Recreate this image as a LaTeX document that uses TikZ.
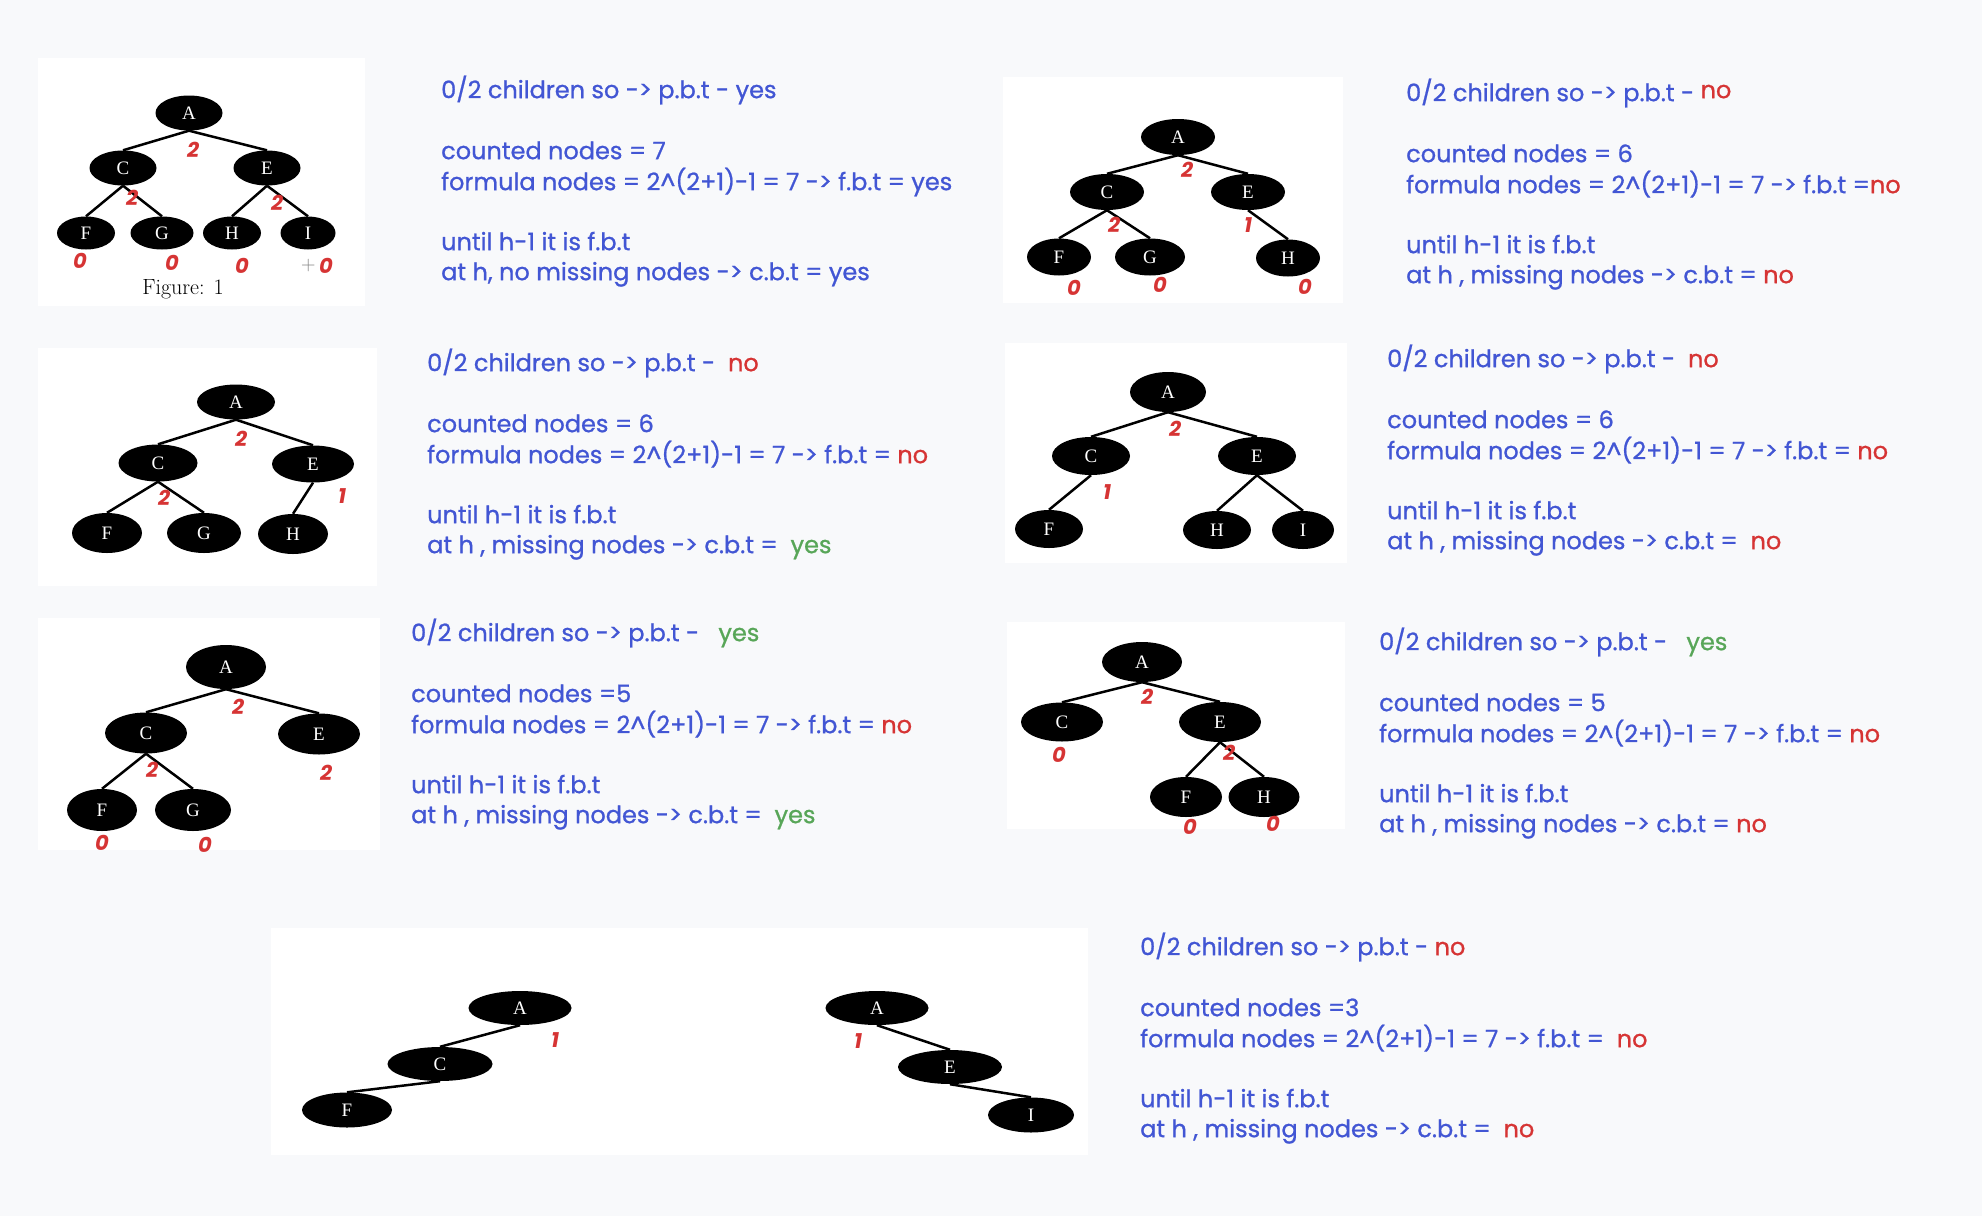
\documentclass[tikz,border=0pt]{standalone}
\usepackage{fontspec}
\newfontfamily\hand[FakeBold=0.9]{Poppins}
\newfontfamily\handnum{Poppins}
\newfontfamily\letterfont{Liberation Serif}
\usetikzlibrary{shapes.geometric, positioning}

\definecolor{pagebg}{RGB}{248,249,251}
\definecolor{noteblue}{RGB}{66,86,212}
\definecolor{ansred}{RGB}{214,52,52}
\definecolor{ansgreen}{RGB}{88,166,88}

\newcommand{\ansno}{\textcolor{ansred}{no}}
\newcommand{\ansyes}{\textcolor{ansgreen}{yes}}

\newcommand{\treenotes}[6]{%
  % #1 name prefix, #2 first line, then lines 1, 2, 3 and 5
  \begin{scope}[shift={#2}]
    \node[noteline] (#1a) at (0, 0) {#3};
    \node[noteline] (#1b) at (0, 61) {#4};
    \node[noteline] (#1c) at (0, 92) {#5};
    \node[noteline] (#1d) at (0, 152) {until h-1 it is f.b.t};
    \node[noteline] (#1e) at (0, 182) {#6};
  \end{scope}
}

\begin{document}
\begin{tikzpicture}[
    x=1pt, y=-1pt,
    panel/.style={fill=white},
    treenode/.style 2 args={ellipse, fill=black, text=white, inner sep=0pt,
        minimum width=#1, minimum height=#2, font=\letterfont\fontsize{19}{19}\selectfont},
    branch/.style={line width=2.5pt},
    degnum/.style={text=ansred, inner sep=0pt,
        font=\handnum\bfseries\itshape\fontsize{21}{21}\selectfont},
    noteline/.style={anchor=mid west, inner sep=0pt, text=noteblue,
        font=\hand\fontsize{24}{24}\selectfont},
  ]
  \fill[pagebg] (0,0) rectangle (1982,1216);

  % tree 1 (full tree)
  \fill[panel] (38,58) rectangle (365,306);
  \node[treenode={67pt}{35pt}] (a1) at (189,113) {A};
  \node[treenode={67pt}{35pt}] (c1) at (123,168) {C};
  \node[treenode={67pt}{35pt}] (e1) at (267,168) {E};
  \node[treenode={58pt}{33pt}] (f1) at (86,233) {F};
  \node[treenode={63pt}{33pt}] (g1) at (162,233) {G};
  \node[treenode={58pt}{33pt}] (h1) at (232,233) {H};
  \node[treenode={55pt}{33pt}] (i1) at (308,233) {I};
  \draw[branch] (a1.south) -- (c1.north);
  \draw[branch] (a1.south) -- (e1.north);
  \draw[branch] (c1.south) -- (f1.north);
  \draw[branch] (c1.south) -- (g1.north);
  \draw[branch] (e1.south) -- (h1.north);
  \draw[branch] (e1.south) -- (i1.north);
  \node[degnum] (na1) at (193,150) {2};
  \node[degnum] (nc1) at (132,198) {2};
  \node[degnum] (ne1) at (277,203) {2};
  \node[degnum] (nf1) at (80,261) {0};
  \node[degnum] (ng1) at (172,263) {0};
  \node[degnum] (nh1) at (242,266) {0};
  \node[degnum] (ni1) at (326,266) {0};
  \node[text=gray, font=\fontsize{20}{20}\selectfont, left=0pt of ni1] (plus1) {+};
  \node[font=\fontsize{22}{22}\selectfont] (cap1) at (183,289) {Figure: 1};

  % tree 2
  \fill[panel] (1003,77) rectangle (1343,303);
  \node[treenode={74pt}{36pt}] (a2) at (1178,137) {A};
  \node[treenode={74pt}{36pt}] (c2) at (1107,192) {C};
  \node[treenode={74pt}{36pt}] (e2) at (1248,192) {E};
  \node[treenode={64pt}{37pt}] (f2) at (1059,257) {F};
  \node[treenode={70pt}{37pt}] (g2) at (1150,257) {G};
  \node[treenode={64pt}{37pt}] (h2) at (1288,258) {H};
  \draw[branch] (a2.south) -- (c2.north);
  \draw[branch] (a2.south) -- (e2.north);
  \draw[branch] (c2.south) -- (f2.north);
  \draw[branch] (c2.south) -- (g2.north);
  \draw[branch] (e2.south) -- (h2.north);
  \node[degnum] (na2) at (1187,170) {2};
  \node[degnum] (nc2) at (1114,225) {2};
  \node[degnum] (ne2) at (1248,225) {1};
  \node[degnum] (nf2) at (1074,288) {0};
  \node[degnum] (ng2) at (1160,285) {0};
  \node[degnum] (nh2) at (1305,287) {0};

  % tree 3
  \fill[panel] (38,348) rectangle (377,586);
  \node[treenode={78pt}{35pt}] (a3) at (236,402) {A};
  \node[treenode={79pt}{37pt}] (c3) at (158,463) {C};
  \node[treenode={82pt}{37pt}] (e3) at (313,464) {E};
  \node[treenode={70pt}{40pt}] (f3) at (107,533) {F};
  \node[treenode={74pt}{40pt}] (g3) at (204,533) {G};
  \node[treenode={70pt}{40pt}] (h3) at (293,534) {H};
  \draw[branch] (a3.south) -- (c3.north);
  \draw[branch] (a3.south) -- (e3.north);
  \draw[branch] (c3.south) -- (f3.north);
  \draw[branch] (c3.south) -- (g3.north);
  \draw[branch] (e3.south) -- (h3.north);
  \node[degnum] (na3) at (241,439) {2};
  \node[degnum] (nc3) at (164,498) {2};
  \node[degnum] (ne3) at (342,496) {1};

  % tree 4
  \fill[panel] (1005,343) rectangle (1347,563);
  \node[treenode={76pt}{40pt}] (a4) at (1168,392) {A};
  \node[treenode={78pt}{38pt}] (c4) at (1091,456) {C};
  \node[treenode={78pt}{38pt}] (e4) at (1257,456) {E};
  \node[treenode={68pt}{38pt}] (f4) at (1049,529) {F};
  \node[treenode={68pt}{38pt}] (h4) at (1217,530) {H};
  \node[treenode={62pt}{38pt}] (i4) at (1303,530) {I};
  \draw[branch] (a4.south) -- (c4.north);
  \draw[branch] (a4.south) -- (e4.north);
  \draw[branch] (c4.south) -- (f4.north);
  \draw[branch] (e4.south) -- (h4.north);
  \draw[branch] (e4.south) -- (i4.north);
  \node[degnum] (na4) at (1175,429) {2};
  \node[degnum] (nc4) at (1107,492) {1};

  % tree 5
  \fill[panel] (38,618) rectangle (380,850);
  \node[treenode={80pt}{44pt}] (a5) at (226,667) {A};
  \node[treenode={82pt}{41pt}] (c5) at (146,733) {C};
  \node[treenode={82pt}{41pt}] (e5) at (319,734) {E};
  \node[treenode={70pt}{42pt}] (f5) at (102,810) {F};
  \node[treenode={76pt}{42pt}] (g5) at (193,810) {G};
  \draw[branch] (a5.south) -- (c5.north);
  \draw[branch] (a5.south) -- (e5.north);
  \draw[branch] (c5.south) -- (f5.north);
  \draw[branch] (c5.south) -- (g5.north);
  \node[degnum] (na5) at (238,707) {2};
  \node[degnum] (nc5) at (152,770) {2};
  \node[degnum] (ne5) at (326,773) {2};
  \node[degnum] (nf5) at (102,843) {0};
  \node[degnum] (ng5) at (205,845) {0};

  % tree 6
  \fill[panel] (1007,622) rectangle (1345,829);
  \node[treenode={80pt}{40pt}] (a6) at (1142,662) {A};
  \node[treenode={82pt}{39pt}] (c6) at (1062,722) {C};
  \node[treenode={82pt}{40pt}] (e6) at (1220,722) {E};
  \node[treenode={72pt}{40pt}] (f6) at (1186,797) {F};
  \node[treenode={71pt}{40pt}] (h6) at (1264,797) {H};
  \draw[branch] (a6.south) -- (c6.north);
  \draw[branch] (a6.south) -- (e6.north);
  \draw[branch] (e6.south) -- (f6.north);
  \draw[branch] (e6.south) -- (h6.north);
  \node[degnum] (na6) at (1147,697) {2};
  \node[degnum] (nc6) at (1059,755) {0};
  \node[degnum] (ne6) at (1229,753) {2};
  \node[degnum] (nf6) at (1190,827) {0};
  \node[degnum] (nh6) at (1273,824) {0};

  % trees 7 (two skewed ones)
  \fill[panel] (271,928) rectangle (1088,1155);
  \node[treenode={103pt}{34pt}] (a7) at (520,1008) {A};
  \node[treenode={105pt}{34pt}] (c7) at (440,1064) {C};
  \node[treenode={90pt}{35pt}] (f7) at (347,1110) {F};
  \node[treenode={103pt}{34pt}] (a8) at (877,1008) {A};
  \node[treenode={104pt}{34pt}] (e8) at (950,1067) {E};
  \node[treenode={86pt}{35pt}] (i8) at (1031,1115) {I};
  \draw[branch] (a7.south) -- (c7.north);
  \draw[branch] (c7.south) -- (f7.north);
  \draw[branch] (a8.south) -- (e8.north);
  \draw[branch] (e8.south) -- (i8.north);
  \node[degnum] (na7) at (555,1040) {1};
  \node[degnum] (na8) at (858,1041) {1};

  % notes
  \treenotes{t1}{(441,96)}
    {0/2 children so -> p.b.t - yes}
    {counted nodes = 7}
    {formula nodes = 2\textasciicircum(2+1)-1 = 7 -> f.b.t = yes}
    {at h, no missing nodes -> c.b.t = yes}
  \treenotes{t2}{(1406,99)}
    {0/2 children so -> p.b.t - \raisebox{3pt}{\ansno}}
    {counted nodes = 6}
    {formula nodes = 2\textasciicircum(2+1)-1 = 7 -> f.b.t =\ansno}
    {at h , missing nodes -> c.b.t = \ansno}
  \treenotes{t3}{(427,369)}
    {0/2 children so -> p.b.t - \ \ansno}
    {counted nodes = 6}
    {formula nodes = 2\textasciicircum(2+1)-1 = 7 -> f.b.t = \ansno}
    {at h , missing nodes -> c.b.t = \ \ansyes}
  \treenotes{t4}{(1387,365)}
    {0/2 children so -> p.b.t - \ \ansno}
    {counted nodes = 6}
    {formula nodes = 2\textasciicircum(2+1)-1 = 7 -> f.b.t = \ansno}
    {at h , missing nodes -> c.b.t = \ \ansno}
  \treenotes{t5}{(411,639)}
    {0/2 children so -> p.b.t - \ \ \ansyes}
    {counted nodes =5}
    {formula nodes = 2\textasciicircum(2+1)-1 = 7 -> f.b.t = \ansno}
    {at h , missing nodes -> c.b.t = \ \ansyes}
  \treenotes{t6}{(1379,648)}
    {0/2 children so -> p.b.t - \ \ \ansyes}
    {counted nodes = 5}
    {formula nodes = 2\textasciicircum(2+1)-1 = 7 -> f.b.t = \ansno}
    {at h , missing nodes -> c.b.t = \ansno}
  \treenotes{t7}{(1140,953)}
    {0/2 children so -> p.b.t - \ansno}
    {counted nodes =3}
    {formula nodes = 2\textasciicircum(2+1)-1 = 7 -> f.b.t = \ \ansno}
    {at h , missing nodes -> c.b.t = \ \ansno}
\end{tikzpicture}
\end{document}
